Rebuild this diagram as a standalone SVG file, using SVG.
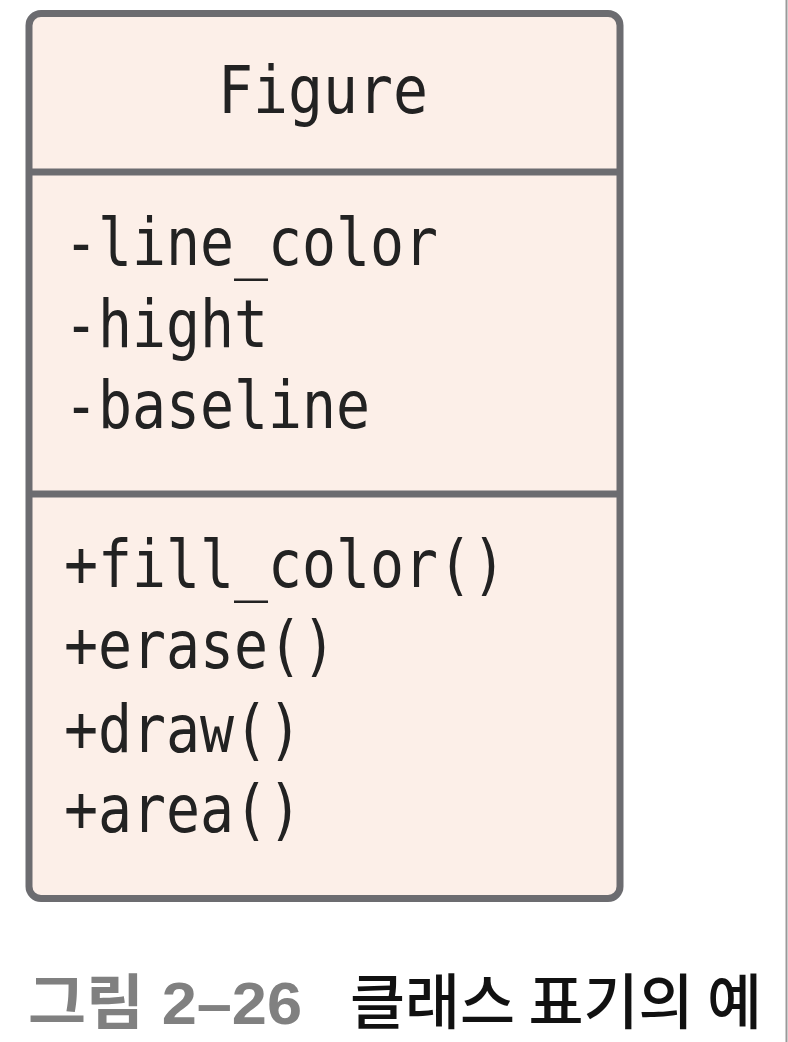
<svg xmlns="http://www.w3.org/2000/svg" width="788" height="1042" viewBox="0 0 788 1042">
<style>
.box{fill:#fcefe8;stroke:#6c6c70;stroke-width:7}
.div{stroke:#6c6c70;stroke-width:7}
.mono{font-family:"DejaVu Sans Mono","Liberation Mono",monospace;font-size:65px;fill:#222222}
.cap1{font-family:"Liberation Sans","Noto Sans CJK KR",sans-serif;font-weight:bold;font-size:60px;fill:#808080}
.cap2{font-family:"Noto Sans CJK KR",sans-serif;font-weight:500;font-size:60px;fill:#111111}
</style>
<rect width="788" height="1042" fill="#ffffff"/>
<line x1="786.5" y1="0" x2="786.5" y2="1042" stroke="#9a9a9a" stroke-width="2"/>
<g id="figure-class">
<rect class="box" x="29" y="13.5" width="591" height="885" rx="12" ry="12"/>
<line class="div" x1="29" y1="172" x2="620" y2="172"/>
<line class="div" x1="29" y1="494" x2="620" y2="494"/>
<text class="mono" x="218" y="113" textLength="210" lengthAdjust="spacingAndGlyphs">Figure</text>
<text class="mono" x="64" y="265" textLength="374" lengthAdjust="spacingAndGlyphs">-line_color</text>
<text class="mono" x="64" y="347" textLength="204" lengthAdjust="spacingAndGlyphs">-hight</text>
<text class="mono" x="64" y="428" textLength="306" lengthAdjust="spacingAndGlyphs">-baseline</text>
<text class="mono" x="64" y="587" textLength="442" lengthAdjust="spacingAndGlyphs">+fill_color()</text>
<text class="mono" x="64" y="668" textLength="272" lengthAdjust="spacingAndGlyphs">+erase()</text>
<text class="mono" x="64" y="752" textLength="238" lengthAdjust="spacingAndGlyphs">+draw()</text>
<text class="mono" x="64" y="832" textLength="238" lengthAdjust="spacingAndGlyphs">+area()</text>
</g>
<g id="caption">
<text class="cap1" x="28" y="1024" textLength="274" lengthAdjust="spacingAndGlyphs">그림 2–26</text>
<text class="cap2" x="350" y="1024" textLength="412" lengthAdjust="spacingAndGlyphs">클래스 표기의 예</text>
</g>
<g id="connectors"></g>
</svg>
